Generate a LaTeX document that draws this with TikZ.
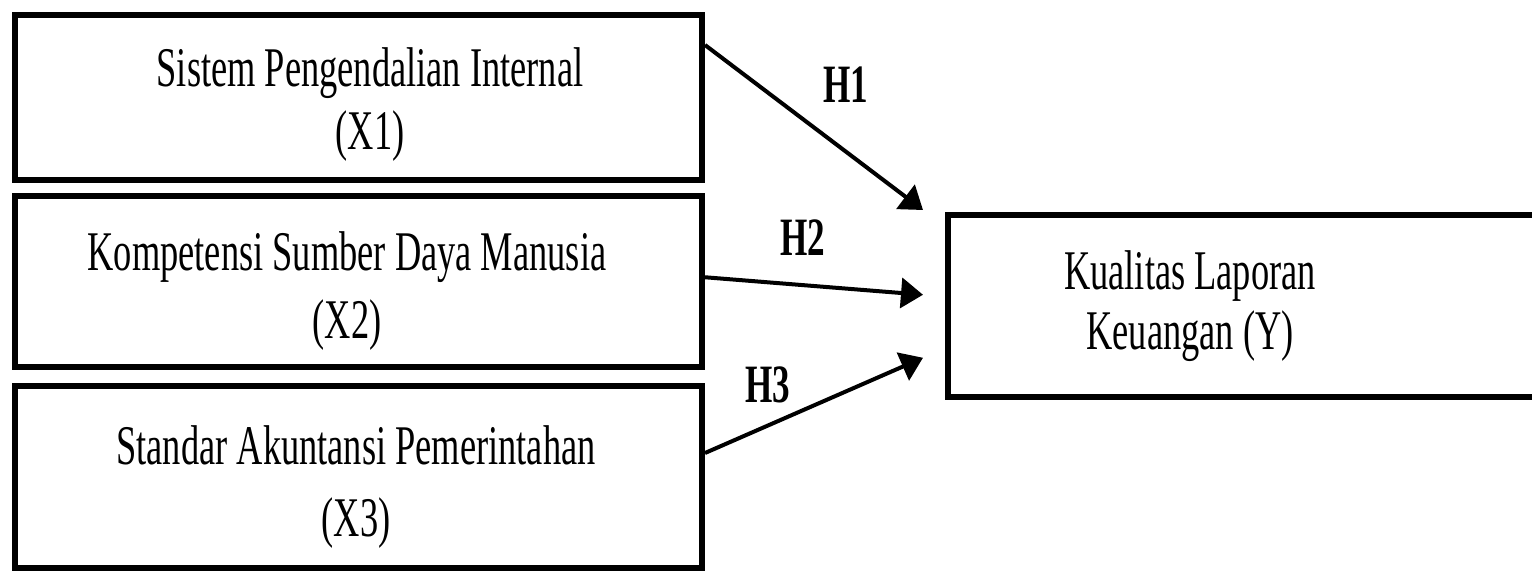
\documentclass[tikz,border=0pt]{standalone}
\usepackage{fontspec}
\setmainfont{Liberation Serif}[FakeStretch=0.65]
\usetikzlibrary{arrows.meta,calc}
\begin{document}
\begin{tikzpicture}[x=0.5pt,y=-0.5pt]
  \tikzstyle{box}=[draw,line width=3pt,minimum width=343.5pt,inner sep=0pt]
  \tikzstyle{caption}=[align=center,inner sep=0pt,font=\fontsize{28}{33}\selectfont]
  \tikzstyle{hyp}=[inner sep=0pt,font=\fontsize{27}{32}\selectfont\bfseries]
  \tikzstyle{link} = [draw,line width=2pt,-{Triangle[length=11pt,width=15pt]}]
  \useasboundingbox (0,0) rectangle (1532,575);
  % variables
  \node[box,minimum height=82.5pt] (X1) at (358.5,97.5) {};
  \node[box,minimum height=85.25pt] (X2) at (358.5,281.25) {};
  \node[box,minimum height=91pt] (X3) at (358.5,477) {};
  \node[box,minimum width=306pt,minimum height=90.75pt] (Y) at (1254,305.75) {};
  \node[caption] (X1text) at (370,104.4) {Sistem Pengendalian Internal\\[-1.5pt](X1)};
  \node[caption] (X2text) at (347,291) {Kompetensi Sumber Daya Manusia\\[1pt](X2)};
  \node[caption] (X3text) at (356,487) {Standar Akuntansi Pemerintahan\\[3pt](X3)};
  \node[caption] (Ytext) at (1190,306) {Kualitas Laporan\\[-3pt]Keuangan (Y)};
  % hypotheses
  \draw[link] ($(X1.north east)+(0,33)$) -- ($(Y.north west)+(-22,-2)$);
  \draw[link] ($(X2.east)+(0,-4)$) -- ($(Y.west)+(-22,-11)$);
  \draw[link] ($(X3.east)+(0,-24)$) -- ($(Y.west)+(-22,52)$);
  \node[hyp] (H1) at (846,85) {H1};
  \node[hyp] (H2) at (803,238) {H2};
  \node[hyp] (H3) at (768,385) {H3};
\end{tikzpicture}
\end{document}
